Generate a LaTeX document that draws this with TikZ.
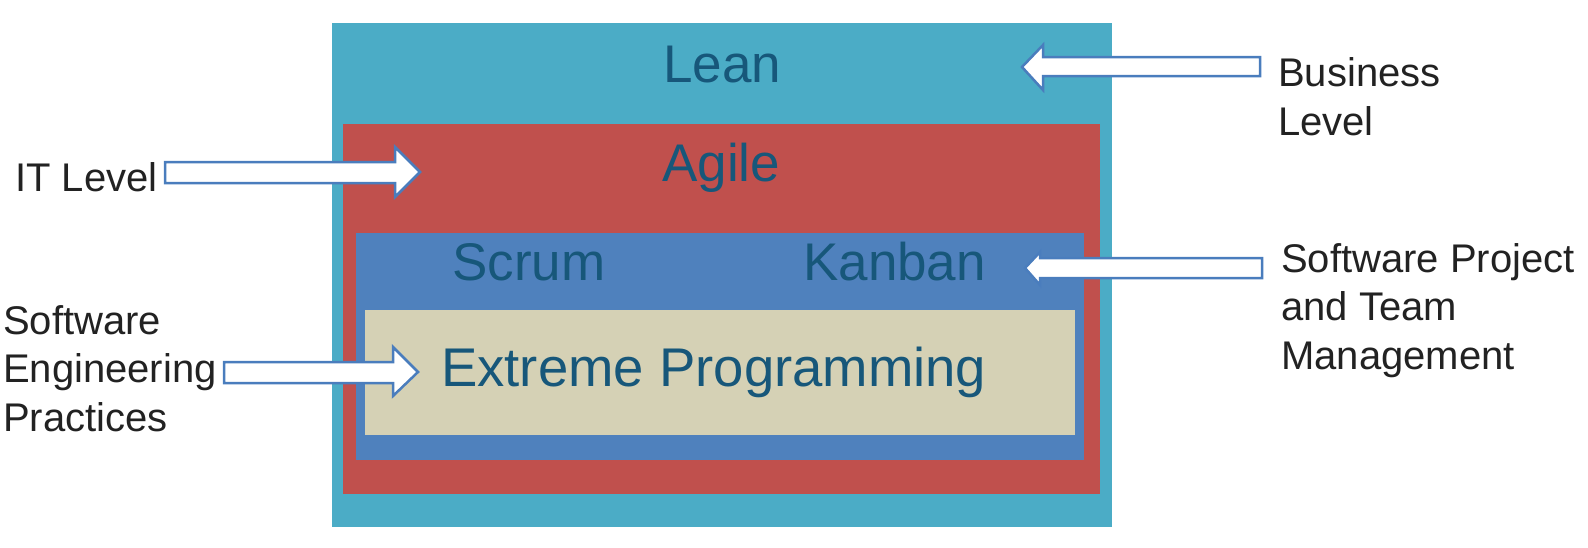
\documentclass[tikz,border=0pt]{standalone}
\usepackage{fontspec}
\setmainfont{Liberation Sans}
\definecolor{leanc}{HTML}{4BACC6}
\definecolor{agilec}{HTML}{C0504D}
\definecolor{scrumc}{HTML}{4F81BD}
\definecolor{xpc}{HTML}{D5D1B5}
\definecolor{titlec}{HTML}{17577A}
\definecolor{labelc}{HTML}{222222}
\definecolor{arrowc}{HTML}{4A7DBD}
\begin{document}
\begin{tikzpicture}[x=1pt,y=-1pt,
  title/.style={inner sep=0pt,anchor=base west,text=titlec,font=\fontsize{53}{60}\selectfont},
  label/.style={inner sep=0pt,anchor=base west,align=left,text=labelc,font=\fontsize{40}{48.5}\selectfont},
  blockarrow/.style={draw=arrowc,fill=white,line width=2.5pt,line join=miter}]
\useasboundingbox (0,0) rectangle (1588,547);
% nested boxes
\fill[leanc] (332,23) rectangle (1112,527);
\fill[agilec] (343,124) rectangle (1100,494);
\fill[scrumc] (356,233) rectangle (1084,460);
\fill[xpc] (365,310) rectangle (1075,435);
% titles
\node[title] (lean) at (663,82) {Lean};
\node[title] (agile) at (662,181) {Agile};
\node[title] (scrum) at (452,280) {Scrum};
\node[title] (kanban) at (803,280) {Kanban};
\node[title,font=\fontsize{54.5}{60}\selectfont] (xp) at (441,386) {Extreme Programming};
% labels (base anchor = last line)
\node[label] (business) at (1278,135) {Business\\Level};
\node[label] (itlevel) at (15,191) {IT Level};
\node[label] (sep) at (3,431) {Software\\Engineering\\Practices};
\node[label] (sptm) at (1281,369) {Software Project\\and Team\\Management};
% block arrows
\draw[blockarrow] (1260,57) -- (1043,57) -- (1043,45) -- (1022,67) -- (1043,90) -- (1043,76) -- (1260,76) -- cycle;
\draw[blockarrow] (165,162) -- (395,162) -- (395,147) -- (420,172) -- (395,197) -- (395,183) -- (165,183) -- cycle;
\draw[blockarrow] (224,362) -- (393,362) -- (393,347) -- (418,372) -- (393,396) -- (393,383) -- (224,383) -- cycle;
\draw[blockarrow] (1262,258) -- (1040,258) -- (1040,252) -- (1025,268) -- (1040,285) -- (1040,278) -- (1262,278) -- cycle;
\end{tikzpicture}
\end{document}
